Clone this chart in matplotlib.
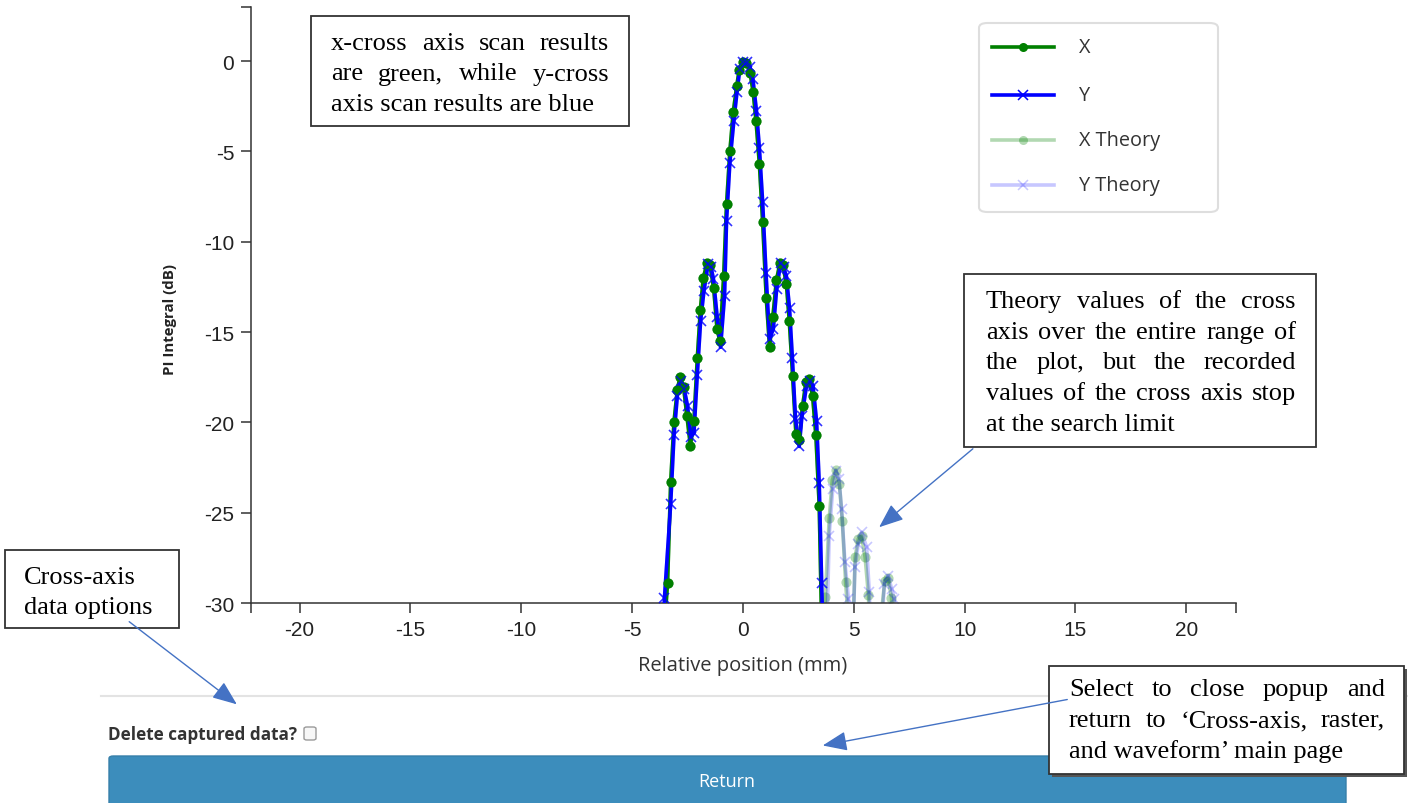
import matplotlib
matplotlib.use("Agg")
import matplotlib.pyplot as plt
from matplotlib.lines import Line2D
from matplotlib.patches import Rectangle, FancyBboxPatch, FancyArrowPatch

# ---------------- data ----------------
# measured x-cross axis scan (green)
x_pos = [-3.55, -3.40, -3.26, -3.11, -2.96, -2.84, -2.68, -2.53, -2.37, -2.21,
         -2.06, -1.92, -1.79, -1.62, -1.49, -1.32, -1.17, -1.04, -0.87, -0.74,
         -0.59, -0.44, -0.28, -0.17, 0.01, 0.16, 0.32, 0.46, 0.59, 0.74,
         0.89, 1.05, 1.20, 1.35, 1.51, 1.67, 1.80, 1.96, 2.09, 2.24,
         2.39, 2.54, 2.69, 2.84, 2.99, 3.14, 3.29, 3.44, 3.59]
x_db = [-31.5, -28.89, -23.32, -19.96, -18.18, -17.50, -18.03, -19.63, -21.29, -19.91,
        -16.46, -13.75, -12.01, -11.18, -11.29, -12.58, -14.81, -15.52, -11.91, -7.93,
        -4.98, -2.84, -1.37, -0.48, -0.03, -0.08, -0.66, -1.70, -3.32, -5.68,
        -8.93, -13.10, -15.80, -14.14, -12.12, -11.18, -11.29, -12.34, -14.39, -17.42,
        -20.64, -20.96, -19.09, -17.78, -17.60, -18.52, -20.72, -24.61, -33.5]

# measured y-cross axis scan (blue)
y_pos = [-3.69, -3.54, -3.26, -3.11, -2.96, -2.80, -2.65, -2.50, -2.35, -2.21,
         -2.06, -1.91, -1.76, -1.57, -1.44, -1.33, -1.16, -1.01, -0.83, -0.74,
         -0.59, -0.41, -0.27, -0.14, 0.01, 0.17, 0.32, 0.45, 0.61, 0.74,
         0.89, 1.04, 1.20, 1.37, 1.52, 1.70, 1.83, 1.96, 2.10, 2.23,
         2.37, 2.54, 2.66, 2.87, 3.04, 3.16, 3.32, 3.44, 3.55, 3.70]
y_db = [-35.0, -29.72, -24.52, -20.72, -18.54, -17.69, -18.15, -19.08, -20.81, -20.59,
        -17.38, -14.39, -12.73, -11.23, -11.40, -12.06, -14.19, -15.84, -12.99, -8.84,
        -5.61, -3.30, -1.72, -0.44, -0.07, -0.07, -0.33, -1.00, -2.75, -4.78,
        -7.82, -11.73, -15.38, -14.83, -12.62, -11.18, -11.40, -11.90, -13.67, -16.44,
        -19.81, -21.33, -19.65, -17.96, -17.69, -17.99, -19.91, -23.35, -28.89, -36.0]

# theory continues past the search limit
xt_tail_pos = [3.72, 3.89, 4.03, 4.19, 4.35, 4.48, 4.63, 4.78, 4.93, 5.06, 5.20,
               5.35, 5.51, 5.66, 5.81, 5.95, 6.10, 6.25, 6.40, 6.55, 6.70, 6.85]
xt_tail_db = [-29.66, -25.32, -23.19, -22.63, -23.41, -25.44, -28.82, -31.5, -33.0, -27.47, -26.45,
              -26.29, -27.47, -29.55, -35.0, -36.0, -34.0, -30.5, -28.76, -28.61, -29.72, -33.0]
yt_tail_pos = [3.89, 4.05, 4.19, 4.33, 4.45, 4.60, 4.76, 4.92, 5.05, 5.20, 5.35,
               5.58, 5.70, 5.84, 6.00, 6.13, 6.27, 6.38, 6.55, 6.71, 6.83, 6.99]
yt_tail_db = [-26.27, -23.69, -22.67, -23.13, -24.79, -27.74, -29.77, -34.0, -28.02, -26.73, -26.08,
              -26.91, -29.40, -35.0, -36.0, -34.0, -31.0, -28.94, -28.48, -29.22, -29.77, -33.0]

xt_pos = x_pos + xt_tail_pos
xt_db = x_db + xt_tail_db
yt_pos = y_pos + yt_tail_pos
yt_db = y_db + yt_tail_db

x_ticks = [-20, -15, -10, -5, 0, 5, 10, 15, 20]
y_ticks = [0, -5, -10, -15, -20, -25, -30]
legend_labels = ["X", "Y", "X Theory", "Y Theory"]

# ---------------- layout helpers (pixels of the 1408x804 image) ----------------
W, H = 1408, 804


def fx(x):
    return x / W


def fy(y):
    return 1 - y / H


GREEN = "#008000"
BLUE = "#0000ff"
ARROW = "#4472C4"
SERIF = "Liberation Serif"
SANS = "Open Sans"
LW = 2.6
MS_DOT = 7.3
MS_X = 7

fig = plt.figure(figsize=(W / 100, H / 100), dpi=100)
fig.patch.set_facecolor("white")

ax = fig.add_axes([fx(251), fy(604), fx(1236) - fx(251), fy(8) - fy(604)])
ax.set_xlim(-22.19, 22.24)
ax.set_ylim(-30, 3)

# theory first (pale), then measured lines, then markers on top
ax.plot(xt_pos, xt_db, color=GREEN, alpha=0.3, lw=LW, marker="o", ms=MS_DOT, mew=0, zorder=1)
ax.plot(yt_pos, yt_db, color=BLUE, alpha=0.22, lw=LW, marker="x", ms=MS_X, mew=1.2, zorder=1)
ax.plot(x_pos, x_db, color=GREEN, lw=LW, zorder=2)
ax.plot(y_pos, y_db, color=BLUE, lw=LW, zorder=3)
ax.plot(x_pos, x_db, ls="none", color=GREEN, marker="o", ms=MS_DOT, mew=0, zorder=4)
ax.plot(y_pos, y_db, ls="none", color=BLUE, marker="x", ms=MS_X, mew=1.1, alpha=0.75, zorder=5)

for s in ["top", "right"]:
    ax.spines[s].set_visible(False)
for s in ["left", "bottom"]:
    ax.spines[s].set_color("#333333")
    ax.spines[s].set_linewidth(1.1)

ax.set_xticks(x_ticks)
ax.set_xticklabels([str(v) for v in x_ticks])
ax.set_yticks(y_ticks)
ax.set_yticklabels([str(v) for v in y_ticks])
ax.set_xticks([-22.19, 22.24], minor=True)
ax.set_yticks([3], minor=True)
ax.tick_params(which="both", direction="out", length=7, width=1.1, color="#333333")
ax.tick_params(axis="both", labelsize=15, labelcolor="#222222", pad=5)
for lab in ax.get_xticklabels() + ax.get_yticklabels():
    lab.set_fontfamily("Liberation Sans")

fig.text(fx(743), fy(666), "Relative position (mm)", ha="center", va="center",
         fontsize=14.5, family=SANS, color="#333333")
fig.text(fx(170), fy(320), "PI Integral (dB)", ha="center", va="center", rotation=90,
         fontsize=10.8, family=SANS, fontweight="bold", color="#222222")

# ---------------- legend box ----------------
fig.add_artist(FancyBboxPatch((fx(979), fy(213)), fx(1218) - fx(979), fy(24) - fy(213),
                              boxstyle="round,pad=0,rounding_size=0.006",
                              transform=fig.transFigure, facecolor="white",
                              edgecolor="#dedede", lw=1.5, zorder=5))
leg_rows = [48, 96, 141, 186]
leg_styles = [
    dict(color=GREEN, alpha=1.0, marker="o"),
    dict(color=BLUE, alpha=1.0, marker="x"),
    dict(color=GREEN, alpha=0.3, marker="o"),
    dict(color=BLUE, alpha=0.22, marker="x"),
]
for row, lab, st in zip(leg_rows, legend_labels, leg_styles):
    fig.add_artist(Line2D([fx(992), fx(1054)], [fy(row), fy(row)], transform=fig.transFigure,
                          color=st["color"], alpha=st["alpha"], lw=LW, zorder=6))
    fig.add_artist(Line2D([fx(1023)], [fy(row)], transform=fig.transFigure, ls="none",
                          color=st["color"], alpha=st["alpha"], marker=st["marker"],
                          ms=6.5, mew=1.1 if st["marker"] == "x" else 0, zorder=6))
    fig.text(fx(1079), fy(row), lab, ha="left", va="center", fontsize=14.3,
             family=SANS, color="#333333", zorder=6)

# ---------------- annotation boxes ----------------
renderer = fig.canvas.get_renderer()
BOX_FS = 19


def box(x0, y0, x1, y1, shadow=False):
    if shadow:
        fig.add_artist(Rectangle((fx(x0 + 3), fy(y1 + 3)), fx(x1) - fx(x0), fy(y0) - fy(y1),
                                 transform=fig.transFigure, facecolor="#555555",
                                 edgecolor="none", zorder=6))
    fig.add_artist(Rectangle((fx(x0), fy(y1)), fx(x1) - fx(x0), fy(y0) - fy(y1),
                             transform=fig.transFigure, facecolor="white",
                             edgecolor="#333333", lw=1.3, zorder=7))


def para(lines, left, right, y0, pitch, justify=True):
    for i, line in enumerate(lines):
        y = y0 + i * pitch
        words = line.split()
        last = i == len(lines) - 1
        if not justify or last or len(words) == 1:
            fig.text(fx(left), fy(y), line, ha="left", va="center", fontsize=BOX_FS,
                     family=SERIF, color="black", zorder=8)
            continue
        objs = [fig.text(0, fy(y), w, ha="left", va="center", fontsize=BOX_FS,
                         family=SERIF, color="black", zorder=8) for w in words]
        widths = [o.get_window_extent(renderer).width for o in objs]
        gap = (right - left - sum(widths)) / (len(words) - 1)
        xx = left
        for o, w in zip(objs, widths):
            o.set_x(fx(xx))
            xx += w + gap


box(311, 17, 629, 127)
para(["x-cross axis scan results", "are green, while y-cross",
      "axis scan results are blue"], 331, 609, 44, 30.5)

box(964, 275, 1316, 448)
para(["Theory values of the cross", "axis over the entire range of",
      "the plot, but the recorded", "values of the cross axis stop",
      "at the search limit"], 986, 1296, 302, 30.7)

box(5, 551, 179, 629)
para(["Cross-axis", "data options"], 24, 160, 578, 30, justify=False)

box(1049, 667, 1404, 775, shadow=True)
para(["Select to close popup and", "return to \u2018Cross-axis, raster,",
      "and waveform\u2019 main page"], 1069, 1385, 690, 31)

# arrows
for (a, b) in [((975, 448), (877, 530)), ((127, 621), (239, 707)), ((1070, 700), (820, 747))]:
    fig.add_artist(FancyArrowPatch((fx(a[0]), fy(a[1])), (fx(b[0]), fy(b[1])),
                                   transform=fig.transFigure,
                                   arrowstyle="-|>,head_length=0.75,head_width=0.3",
                                   mutation_scale=20, color=ARROW, lw=1, zorder=9))

# ---------------- popup footer ----------------
fig.add_artist(Line2D([fx(101), fx(1408)], [fy(697), fy(697)], transform=fig.transFigure,
                      color="#e3e3e3", lw=1.5, zorder=2))
fig.text(fx(108), fy(735), "Delete captured data?", ha="left", va="center", fontsize=12.3,
         family=SANS, fontweight="bold", color="#333333")
fig.add_artist(FancyBboxPatch((fx(304), fy(741)), fx(316) - fx(304), fy(728) - fy(741),
                              boxstyle="round,pad=0,rounding_size=0.002",
                              transform=fig.transFigure, facecolor="#f7f7f7",
                              edgecolor="#9a9a9a", lw=1, zorder=3))
fig.add_artist(FancyBboxPatch((fx(109), fy(810)), fx(1346) - fx(109), fy(757) - fy(810),
                              boxstyle="round,pad=0,rounding_size=0.003",
                              transform=fig.transFigure, facecolor="#3c8dbc",
                              edgecolor="#367fa9", lw=1, zorder=3))
fig.text(fx(727), fy(782), "Return", ha="center", va="center", fontsize=13,
         family=SANS, color="white", zorder=4)

fig.savefig("out.png", dpi=100)
